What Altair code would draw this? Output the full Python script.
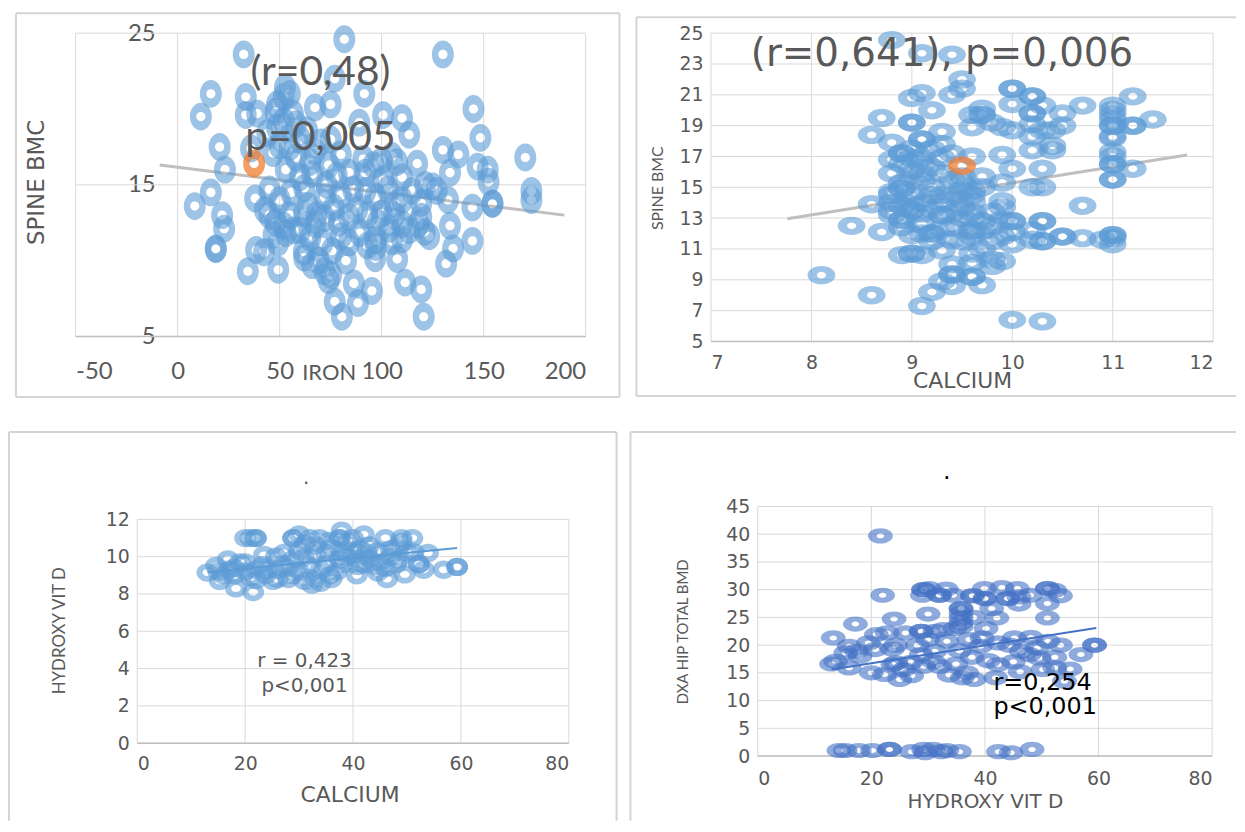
import altair as alt
import pandas as pd

TL_POINTS = [(81.7,24.6),(32.4,23.6),(130,23.6),(77,22),(52.6,21.4),(16.3,21),(33.4,20.8),(91.5,21),(75,20.3),(67.3,20.1),(48.7,20.3),(11.4,19.5),(145,20),(56.5,19.7),(39,19.7),(33.4,19.6),(100.7,19.6),(110,19.4),(89,19.1),(48.7,18.8),(63.4,18.6),(148.4,18.1),(113.5,18.3),(75,18),(20.6,17.5),(36,17.4),(130,17.3),(137.6,17),(67.3,17.2),(46.7,17.1),(58,16.8),(80,17),(91,16.7),(107.6,16.5),(117.4,16.4),(23.2,16),(170.4,16.8),(147,16.2),(152,16),(133.5,15.8),(84,15.8),(100.8,15.3),(152.4,15.2),(121.3,15),(73,15),(62,14.8),(86,14.7),(45,14.7),(16.3,14.5),(55.6,14.5),(38,14.1),(173.4,14.6),(173.4,14),(132.5,14),(119.4,13.8),(106.6,13.75),(154.3,13.75),(154.3,13.75),(8.4,13.6),(42.8,13.35),(76.6,13.5),(88,13.35),(100,13.1),(144.5,13.5),(21.8,13),(61.9,13.1),(119.4,12.9),(133.5,12.3),(67.6,12.4),(22.8,12.1),(60,12),(89.3,11.8),(103.7,12.1),(113.5,12),(123.3,11.6),(49.3,11.2),(144.5,11.3),(18.7,10.8),(18.7,10.75),(42.4,10.55),(38.5,10.7),(61.9,10.6),(75.6,10.65),(97.2,10.9),(135,10.8),(96.8,10.15),(107.6,10.1),(82.5,10),(69,10),(131.6,9.8),(34.4,9.3),(49.3,9.4),(75.2,9.05),(111.5,8.55),(86.4,8.5),(119.4,8.1),(95.2,8),(77,7.3),(88.4,7.2),(120.6,6.3),(80.5,6.3),
(48,19.8),(52,20.8),(55,21),(52,19.2),(58,19),(44,18.4),(60,18),(50,17.6),(55,17.5),(70,17.8),(65,16.5),(74,16.3),(53,16),(60,15.5),(66,15.7),(78,15.6),(92,15.8),(96,16.3),(100,16.6),(105,16.9),(110,15.5),(115,14.6),(125,14.9),(127,14.6),(72,14.2),(80,14.3),(92,14.6),(97,14.2),(103,14.7),(110,14),(50,14),(45,13),(48,12.5),(52,12.3),(55,13),(57,12),(64,13.6),(68,13),(72,12.8),(79,12.5),(84,12.9),(93,13),(98,12.5),(106,13),(110,12.4),(118,12.4),(121,11.9),(47,11.7),(53,11.8),(65,11.5),(71,11.2),(80,11.6),(84,11.2),(93,11),(97,11.4),(105,11.3),(110,11.4),(62,10.2),(66,9.7),(72,9.3),(74,8.7)]
TL_HI = [(37.5,16.4)]
TL_TREND = [(-8.8,16.3),(189.5,13)]

TR_POINTS = [(8.8,24.55),(9.1,23.7),(9.4,23.6),(9.5,22),(9.5,21.4),(9.4,21),(9.1,21.1),(9,20.8),(9.2,20),(10,21.4),(10,21.4),(10.2,20.9),(10.2,20.9),(10,20.4),(10.3,20.3),(10.7,20.3),(11.2,20.9),(11,20.3),(11,20),(11,19.7),(11,19.4),(11,19),(11,19),(11,18.3),(11,18.2),(11.2,19),(11.2,19),(11.4,19.4),(10.2,19.8),(10.2,19.8),(10.5,19.8),(10.5,19),(10.2,19.1),(10.4,18.7),(10.3,18.7),(10.2,18.3),(9.7,20.1),(9.7,19.7),(9.7,19.7),(9.6,19.7),(9.8,19.2),(9.6,18.9),(9.9,18.9),(10,18.7),(8.7,19.5),(9,19.2),(9,19.2),(9.3,18.6),(8.6,18.4),(8.8,17.9),(9.1,18.1),(9.1,18.1),(9,17.5),(9.2,17.5),(9.3,17.8),(10.4,17.7),(10.4,17.4),(10.2,17.4),(11,17.3),(11,17),(11,16.5),(11,16.5),(11,15.5),(11,15.5),(11.2,16.2),(10.3,16.2),(10,16.2),(9.9,17.1),(9.6,17),(9.4,17.2),(8.9,17.2),(8.9,17.2),(8.8,16.8),(8.9,16.5),(9,16.1),(9.1,16.5),(9.1,15.9),(8.8,15.9),(9.3,15.9),(9.7,15.7),(9.1,15.4),(9.5,15.3),(9.9,15.3),(10.2,15),(10.3,15),(9.5,14.8),(8.9,14.9),(8.9,14.9),(8.8,14.7),(9.3,14.5),(9.6,14.8),(9.7,15),(8.6,13.9),(8.8,14.5),(9.5,14.2),(9.6,14.1),(9,13.9),(9.9,14.1),(9.9,13.7),(10.7,13.8),(8.8,13.5),(9,13.5),(9,13.5),(8.9,12.9),(8.9,12.9),(9.3,13.2),(9.3,13.2),(9.5,13),(9.2,13.6),(9.8,13.4),(10,12.8),(10,12.8),(10.3,12.8),(10.3,12.8),(10.2,12.2),(10,12.1),(8.4,12.5),(8.7,12.1),(8.9,12.4),(9,11.9),(9.2,12),(9.2,12),(9.4,12.4),(9.6,12.2),(9.6,12.2),(9.7,12.2),(9.1,12.6),(9.4,11.6),(9.9,11.8),(10.2,11.6),(10.3,11.5),(10.3,11.5),(10.5,11.8),(10.5,11.8),(10.7,11.7),(10.9,11.6),(11,11.9),(11,11.9),(11,11.7),(11,11.3),(10,11.3),(9.3,10.9),(9.6,10.7),(9.7,11),(8.9,10.6),(9,10.7),(9,10.7),(9.1,10.6),(9.4,10),(9.8,10.3),(9.9,10.2),(9.8,9.9),(9.6,10.1),(9.4,9.35),(9.4,9.35),(9.6,9.2),(9.6,9.2),(9.3,8.9),(9.4,8.6),(9.7,8.65),(9.2,8.2),(8.1,9.3),(8.6,8),(9.1,7.3),(10,6.4),(10.3,6.3),
(8.8,14),(8.8,13.2),(8.9,13.8),(9,14.4),(9.1,14),(9.1,13.3),(9.2,14.5),(9.3,14),(9.4,14.4),(9.4,13.3),(9.5,13.7),(9.6,13.4),(9.6,13),(9.7,12.8),(9.8,12.5),(9.9,12.9),(9.1,12),(9.2,11.5),(9.3,12.3),(9.5,11.5),(9.6,11.8),(9.8,11.5),(9,15.5),(9.2,16.3),(9.3,16.9),(9,16.9),(9.2,15),(9.4,15.5),(9.5,15.7),(9.6,14.5),(9.1,17),(8.9,15.3)]
TR_HI = [(9.5,16.4)]
TR_TREND = [(7.76,12.96),(11.74,17.1)]

BL_POINTS = [(22,11),(20,11),(21,11),(22,11),(28.9,11),(28.9,11),(30,11.2),(32,11),(33.8,11),(35.5,10.85),(37.9,11.4),(37.5,11),(37.5,11),(40,11),(42,11.2),(46,11),(49,11),(51,11),(14.6,9.5),(13,9.15),(16.8,9.85),(20,9.7),(18,9.4),(18,9),(15.3,8.7),(18.3,8.3),(21.5,8.1),(22,8.75),(23.5,10.1),(23.2,9.55),(23.8,9),(25.2,8.7),(27,9.6),(27.2,10.2),(25.7,10),(28.9,9),(30.9,9.95),(32.4,8.5),(33,10.1),(35.7,9),(37.5,9.85),(38.1,10.2),(40.7,9),(41.2,10.4),(42.5,10.25),(40.9,9.5),(44.6,9.15),(44.6,10.3),(46.3,8.8),(48.3,10.5),(48.4,9.85),(49.6,9.05),(51.2,10.25),(52.2,9.6),(52.2,9.6),(53.1,9.3),(53.9,10.2),(56.8,9.3),(59.3,9.45),(59.3,9.45),
(17,9.3),(20,9.2),(21,8.9),(24,9.3),(26,9.3),(28,9.4),(29,9.9),(30,9.2),(31,8.7),(32,9.5),(33,8.8),(34,9.3),(35,9.6),(36,8.8),(37,9.2),(38,9.6),(39,10),(40,10.3),(41,9.9),(42,9.6),(43,9.9),(44,9.5),(45,9.7),(46,9.4),(47,10),(48,9.6),(50,10.2),(35,10.2),(30,10.3),(28,8.8),(26,8.8),(34,8.6),(22,9.3),(19,9.7),(16,9),(15,9.2),(36,10.5),(39,10.8),(43,10.6),(47,10.4),(49,10.8),(33,10.6),(31,10.7)]
BL_TREND = [(13.1,9.17),(59.3,10.47)]

BR_POINTS = [(21.6,39.7),(22,29),(29.2,30),(29.2,30),(29,29),(30.2,30.2),(32,29),(32,29),(33.2,30.1),(34.4,29),(37.8,28.9),(37.8,28.9),(39.9,30.2),(40,28.4),(40,28.4),(43,30.4),(44,28.4),(44,28.4),(45.7,30.2),(46,28.7),(46,27.4),(48,29),(51,30.2),(51,30.2),(52.3,29.9),(53.3,28.9),(51,27.5),(51,24.9),(41.2,26.6),(42.1,24.9),(35.8,26.6),(35.8,26.6),(35.8,25.7),(35.8,24.9),(35.8,24),(35.8,23.3),(38,25),(30,25.6),(24,24.7),(17.2,23.8),(13.3,21.3),(22.8,22.2),(20.9,21.9),(26,22.2),(28.8,22.5),(28.8,22.5),(31.2,22.5),(33.3,20.7),(37.2,21),(42.3,20.4),(45.2,21.3),(48.1,21.4),(51.1,20.7),(53.3,20),(59.3,20),(59.3,20),(56.9,18.3),(52.3,17.8),(49.5,17.7),(47.8,18.3),(52.3,15.9),(55,15.7),(46.2,15.2),(50.2,15.6),(41.9,14.1),(54,13.5),(38.1,13.8),(36.8,15),(33.7,14.6),(36,14.1),(40.6,17.2),(37.7,17.8),(35.5,19),(34.9,16.6),(31,17),(27,16.9),(25.7,15.6),(27.1,14.5),(25,13.8),(22.3,14.7),(20,15),(23.7,19.3),(20.7,19.2),(18,18),(15.5,18.6),(13.7,17.1),(13,16.6),(16.1,15.9),(19.5,20.4),(24.3,20),(28.8,18.3),(28.1,20),(31.2,18.9),(32,16.2),(29.2,16.2),(39.2,19.8),(44.3,20),(46.4,18.9),(45,17),(42.3,16.5),(39.5,21.3),(40.2,23),(34.7,23),(32.6,22.8),(16.1,19.8),(17.4,18.9),(23.8,16.5),(24.3,16.8),(29.9,21),(49.2,19.5),
(14.3,1),(15.4,1),(17.8,1),(20.2,1),(23.2,1.2),(23.2,1.2),(27.1,0.8),(29.5,0.6),(29.2,1.2),(30.9,1.2),(32.3,0.8),(33.3,1),(35.5,0.8),(42.4,0.8),(44.6,0.6),(48.3,1.2)]
BR_TREND = [(13,15.6),(59.6,23.1)]

TL_NOTES = [(70,22.4,"(r=0,48)"),(70,18.1,"p=0,005")]
TR_NOTES = [(9.3,23.64,"(r=0,641), p=0,006")]
BL_NOTES = [(31,4.43,"r = 0,423"),(31,3.04,"p<0,001"),(31.3,14.2,".")]
BR_NOTES = [(41.5,13.1,"r=0,254"),(41.5,8.8,"p<0,001"),(32.6,51.2,".")]

GREY = "#595959"
GRID = "#D9D9D9"
NARROW = "Lato"
WIDE = "DejaVu Sans"
ONE = pd.DataFrame({"a": [0]})


def ellipse(rx, ry, clockwise):
    k = 0.5523
    s = 1 if clockwise else -1
    kx, ky = rx * k, ry * k * s
    ry_s = ry * s
    return (f"M {-rx} 0 C {-rx} {-ky:.4f} {-kx:.4f} {-ry_s} 0 {-ry_s} "
            f"C {kx:.4f} {-ry_s} {rx} {-ky:.4f} {rx} 0 "
            f"C {rx} {ky:.4f} {kx:.4f} {ry_s} 0 {ry_s} "
            f"C {-kx:.4f} {ry_s} {-rx} {ky:.4f} {-rx} 0 Z")


def ring(rx, ry, hx, hy):
    return ellipse(rx, ry, True) + " " + ellipse(hx, hy, False)


def frame(box, sides):
    base = alt.Chart(ONE)
    c = "#D4D4D4"
    fx0, fx1, fy0, fy1 = box
    layers = []
    layers.append(base.mark_rule(color=c, strokeWidth=2).encode(x=alt.value(fx0), x2=alt.value(fx1), y=alt.value(fy0)))
    layers.append(base.mark_rule(color=c, strokeWidth=2).encode(x=alt.value(fx0), y=alt.value(fy0), y2=alt.value(fy1)))
    if "b" in sides:
        layers.append(base.mark_rule(color=c, strokeWidth=2).encode(x=alt.value(fx0), x2=alt.value(fx1), y=alt.value(fy1)))
    if "r" in sides:
        layers.append(base.mark_rule(color=c, strokeWidth=2).encode(x=alt.value(fx1), y=alt.value(fy0), y2=alt.value(fy1)))
    return layers


def title_mark(text, px, py, font, size, angle=0):
    return alt.Chart(ONE).mark_text(font=font, fontSize=size, color=GREY, align="center", baseline="middle",
                                    angle=angle).encode(
        x=alt.value(px), y=alt.value(py), text=alt.value(text))


def spacer(w=1, h=1):
    return alt.Chart(ONE).mark_rect(fill="transparent", strokeWidth=0).encode(
        x=alt.value(0), x2=alt.value(0), y=alt.value(0), y2=alt.value(0)
    ).properties(width=w, height=h)


def panel(ox, oy, w, h, xdom, ydom, xticks, yticks, xt, yt, pts, trend, shape, size, color,
          trend_color, trend_width, trend_on_top, notes, note_font, note_size, note_color, note_align,
          box, sides, xaxis_kw, yaxis_kw, hi=None):
    xscale = alt.Scale(domain=xdom, range=[ox, ox + w], nice=False, zero=False)
    yscale = alt.Scale(domain=ydom, range=[oy + h, oy], nice=False, zero=False)
    xaxis = alt.Axis(values=xticks, title=None, grid=False, ticks=False, domain=False, labelColor=GREY,
                     labelExpr="'' + datum.value", labelOverlap=False, **xaxis_kw)
    yaxis = alt.Axis(values=yticks, title=None, grid=False, ticks=False, domain=False, labelColor=GREY,
                     labelOverlap=False, **yaxis_kw)

    def X(f):
        return alt.X(f + ":Q", scale=xscale, axis=xaxis)

    def Y(f):
        return alt.Y(f + ":Q", scale=yscale, axis=yaxis)

    layers = frame(box, sides)
    layers.append(alt.Chart(pd.DataFrame({"v": xticks})).mark_rule(color=GRID, strokeWidth=1).encode(
        x=X("v"), y=alt.value(oy), y2=alt.value(oy + h)))
    layers.append(alt.Chart(pd.DataFrame({"v": yticks})).mark_rule(color=GRID, strokeWidth=1).encode(
        y=Y("v"), x=alt.value(ox), x2=alt.value(ox + w)))
    layers.append(alt.Chart(pd.DataFrame({"v": [ydom[0]]})).mark_rule(color="#BFBFBF", strokeWidth=1.5).encode(
        y=Y("v"), x=alt.value(ox), x2=alt.value(ox + w)))
    pdf = pd.DataFrame(pts, columns=["x", "y"])
    tdf = pd.DataFrame(trend, columns=["x", "y"])
    ndf = pd.DataFrame(notes, columns=["x", "y", "t"])
    line = alt.Chart(tdf).mark_line(color=trend_color, strokeWidth=trend_width).encode(x=X("x"), y=Y("y"))
    points = alt.Chart(pdf).mark_point(shape=shape, size=size, filled=True, fill=color, fillOpacity=0.6,
                                       strokeWidth=0, opacity=1).encode(x=X("x"), y=Y("y"))
    layers += [points, line] if trend_on_top else [line, points]
    if hi:
        layers.append(alt.Chart(pd.DataFrame(hi, columns=["x", "y"])).mark_point(
            shape=shape, size=size, filled=True, fill="#ED7D31", fillOpacity=0.75, strokeWidth=0, opacity=1
        ).encode(x=X("x"), y=Y("y")))
    layers.append(alt.Chart(ndf).mark_text(font=note_font, fontSize=note_size, color=note_color,
                                           align=note_align, baseline="middle").encode(
        x=X("x"), y=Y("y"), text="t:N"))
    layers.append(title_mark(*xt))
    layers.append(title_mark(*yt))
    return alt.layer(*layers).properties(width=ox + w, height=oy + h)


tl = panel(0, 0, 513, 305, [-50, 200], [5, 25], [-50, 0, 50, 100, 150, 200], [5, 15, 25],
           ("IRON", 255, 342, NARROW, 22), ("SPINE BMC", -39, 150, WIDE, 23, 270),
           TL_POINTS, TL_TREND, ring(0.79, 1, 0.33, 0.33), 784, "#5B9BD5", "#BFBFBF", 3, False,
           TL_NOTES, NARROW, 41, "#595959", "center",
           (-60, 547, -20, 366), "br",
           dict(labelFont=NARROW, labelFontSize=24, labelPadding=23),
           dict(labelFont=NARROW, labelFontSize=24, labelPadding=22, offset=-102),
           hi=TL_HI)

tr = panel(0, 0, 505, 310, [7, 12], [5, 25], [7, 8, 9, 10, 11, 12], list(range(5, 26, 2)),
           ("CALCIUM", 253, 350, WIDE, 22), ("SPINE BMC", -53, 156, NARROW, 16, 270),
           TR_POINTS, TR_TREND, ring(1, 0.66, 0.33, 0.24), 784, "#5B9BD5", "#BFBFBF", 3, False,
           TR_NOTES, WIDE, 39, "#595959", "center",
           (-75, 528, -16, 365), "b",
           dict(labelFont=WIDE, labelFontSize=19, labelPadding=12),
           dict(labelFont=WIDE, labelFontSize=19, labelPadding=8),
           hi=TR_HI)

bl = panel(62, 13, 434, 225, [0, 80], [0, 12], [0, 20, 40, 60, 80], list(range(0, 13, 2)),
           ("CALCIUM", 276, 290, WIDE, 22), ("HYDROXY VIT D", -16, 125, NARROW, 17, 270),
           BL_POINTS, BL_TREND, ring(0.96, 0.8, 0.42, 0.3), 529, "#5B9BD5", "#5B9BD5", 2, True,
           BL_NOTES, WIDE, 20, "#595959", "center",
           (-67, 544, -75, 316), "r",
           dict(labelFont=WIDE, labelFontSize=19, labelPadding=12),
           dict(labelFont=WIDE, labelFontSize=19, labelPadding=8, offset=-62))

br = panel(47, 0, 457, 251, [0, 80], [0, 45], [0, 20, 40, 60, 80], list(range(0, 46, 5)),
           ("HYDROXY VIT D", 276, 297, WIDE, 20), ("DXA HIP TOTAL BMD", -28, 126, NARROW, 15, 270),
           BR_POINTS, BR_TREND, ring(1, 0.61, 0.3, 0.2), 625, "#4472C4", "#4472C4", 2, True,
           BR_NOTES, WIDE, 24, "#000000", "left",
           (-81, 528, -75, 316), "",
           dict(labelFont=WIDE, labelFontSize=19, labelPadding=14),
           dict(labelFont=WIDE, labelFontSize=19, labelPadding=8, offset=-47))

chart = alt.concat(spacer(1, 1), spacer(1, 23), spacer(1, 1), spacer(1, 1),
                   spacer(68, 1), tl, spacer(126, 1), tr,
                   spacer(1, 1), spacer(1, 166), spacer(1, 1), spacer(1, 1),
                   spacer(1, 1), bl, spacer(1, 1), br,
                   columns=4, spacing=0, align="none", bounds="flush").properties(
    padding=0,
    background="white",
).configure_view(stroke=None)
chart.save("out.html", embed_options={"renderer": "svg", "actions": False})
